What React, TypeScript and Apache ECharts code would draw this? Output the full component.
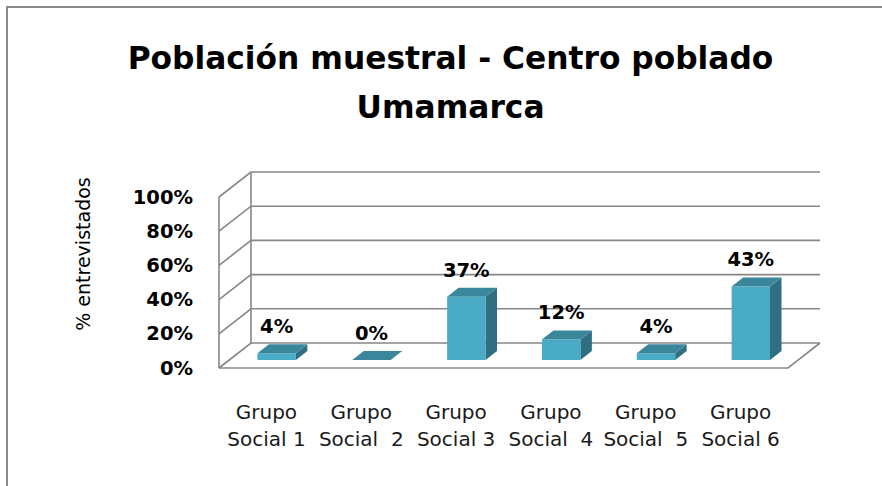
import React, { useEffect, useRef } from "react";
import * as echarts from "echarts";

const categories = [
  "Grupo\nSocial 1",
  "Grupo\nSocial  2",
  "Grupo\nSocial 3",
  "Grupo\nSocial  4",
  "Grupo\nSocial  5",
  "Grupo\nSocial 6",
];
const values = [4, 0, 37, 12, 4, 43];
const yTicks = [0, 20, 40, 60, 80, 100];
const titleText = "Población muestral - Centro poblado\nUmamarca";
const yAxisName = "% entrevistados";

const DEPTH_X = 32;
const DEPTH_Y = -25;
const PLANE = 0.32;
const BAR_DX = 11.5;
const BAR_DY = -9;
const GRID_COLOR = "#878787";

export default function App() {
  const ref = useRef<HTMLDivElement>(null);
  useEffect(() => {
    if (!ref.current) return;
    const chart = echarts.init(ref.current, null, { renderer: "svg" });
    const option: any = {
      animation: false,
      backgroundColor: "#ffffff",
      title: {
        text: titleText,
        left: 450.5,
        top: 33,
        padding: 0,
        textAlign: "center",
        textStyle: {
          fontFamily: "DejaVu Sans",
          fontWeight: "bold",
          fontSize: 31.3,
          lineHeight: 49,
          color: "#000000",
        },
      },
      grid: { left: 219, top: 197, width: 569, height: 171 },
      xAxis: {
        type: "category",
        data: categories,
        axisLine: { show: false },
        axisTick: { show: false },
        splitLine: { show: false },
        axisLabel: {
          interval: 0,
          margin: 30,
          color: "#1a1a1a",
          fontFamily: "DejaVu Sans",
          fontSize: 20,
          lineHeight: 27,
        },
      },
      yAxis: {
        type: "value",
        min: 0,
        max: 100,
        interval: 20,
        axisLine: { show: false },
        axisTick: { show: false },
        splitLine: { show: false },
        axisLabel: {
          formatter: "{value}%",
          margin: 26,
          color: "#000000",
          fontFamily: "DejaVu Sans",
          fontWeight: "bold",
          fontSize: 19.5,
        },
      },
      graphic: [
        {
          type: "rect",
          shape: { x: 7, y: 7, width: 900, height: 500 },
          style: { fill: "none", stroke: "#8a8a8a", lineWidth: 2 },
          silent: true,
        },
        {
          type: "text",
          x: 83,
          y: 254,
          rotation: Math.PI / 2,
          style: {
            text: yAxisName,
            font: "19px 'DejaVu Sans'",
            fill: "#000000",
            align: "center",
            verticalAlign: "middle",
            textAlign: "center",
            textVerticalAlign: "middle",
          },
          silent: true,
        },
      ],
      series: [
        {
          type: "custom",
          name: "walls",
          silent: true,
          clip: false,
          z: 1,
          data: yTicks.map((t) => [0, t]),
          renderItem: (params: any, api: any) => {
            const t = api.value(1);
            const n = categories.length;
            const p0 = api.coord([0, t]);
            const pn = api.coord([n - 1, t]);
            const bw = api.size([1, 0])[0];
            const xL = p0[0] - bw / 2;
            const xR = pn[0] + bw / 2;
            const y = p0[1];
            const ls = { stroke: GRID_COLOR, lineWidth: 1.6, fill: "none" };
            const children: any[] = [
              {
                type: "polyline",
                shape: {
                  points: [
                    [xL, y],
                    [xL + DEPTH_X, y + DEPTH_Y],
                    [xR + DEPTH_X, y + DEPTH_Y],
                  ],
                },
                style: ls,
              },
            ];
            if (t === yTicks[0]) {
              const top = api.coord([0, yTicks[yTicks.length - 1]]);
              children.push({
                type: "polyline",
                shape: {
                  points: [
                    [xL, y],
                    [xR, y],
                    [xR + DEPTH_X, y + DEPTH_Y],
                  ],
                },
                style: ls,
              });
              children.push({
                type: "line",
                shape: { x1: xL, y1: y, x2: xL, y2: top[1] },
                style: ls,
              });
              children.push({
                type: "line",
                shape: {
                  x1: xL + DEPTH_X,
                  y1: y + DEPTH_Y,
                  x2: xL + DEPTH_X,
                  y2: top[1] + DEPTH_Y,
                },
                style: ls,
              });
            }
            return { type: "group", children };
          },
        },
        {
          type: "custom",
          name: "bars",
          silent: true,
          clip: false,
          z: 2,
          data: values.map((v, i) => [i, v]),
          renderItem: (params: any, api: any) => {
            const i = api.value(0);
            const v = api.value(1);
            const base = api.coord([i, 0]);
            const topP = api.coord([i, v]);
            const band = api.size([1, 0])[0];
            const bw = band * 0.405;
            const ox = DEPTH_X * PLANE;
            const oy = DEPTH_Y * PLANE;
            const cx = base[0] + ox;
            const x0 = cx - bw / 2;
            const x1 = cx + bw / 2;
            const yb = base[1] + oy;
            const yt = topP[1] + oy;
            return {
              type: "group",
              children: [
                {
                  type: "polygon",
                  shape: {
                    points: [
                      [x1, yb],
                      [x1 + BAR_DX, yb + BAR_DY],
                      [x1 + BAR_DX, yt + BAR_DY],
                      [x1, yt],
                    ],
                  },
                  style: { fill: "#2f6f81" },
                },
                {
                  type: "rect",
                  shape: { x: x0, y: yt, width: bw, height: Math.max(yb - yt, 0) },
                  style: { fill: "#4aabc6" },
                },
                {
                  type: "polygon",
                  shape: {
                    points: [
                      [x0, yt],
                      [x0 + BAR_DX, yt + BAR_DY],
                      [x1 + BAR_DX, yt + BAR_DY],
                      [x1, yt],
                    ],
                  },
                  style: { fill: "#3a879c" },
                },
                {
                  type: "text",
                  style: {
                    text: v + "%",
                    x: cx,
                    y: yt - 16.5,
                    font: "bold 19.5px 'DejaVu Sans'",
                    fill: "#000000",
                    align: "center",
                    verticalAlign: "bottom",
                    textAlign: "center",
                    textVerticalAlign: "bottom",
                  },
                },
              ],
            };
          },
        },
      ],
    };
    chart.setOption(option);
    return () => chart.dispose();
  }, []);
  return (
    <div
      ref={ref}
      style={{ position: "fixed", left: 0, top: 0, width: 882, height: 486 }}
    />
  );
}
